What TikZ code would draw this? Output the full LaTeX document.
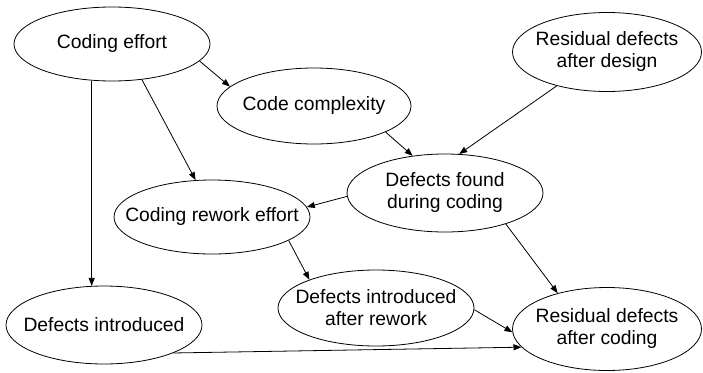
\documentclass[tikz,border=0pt]{standalone}
\usepackage{fontspec}
\setmainfont{Liberation Sans}
\usetikzlibrary{shapes.geometric,arrows.meta}
\begin{document}
\begin{tikzpicture}[x=1pt,y=-1pt,
  lab/.style={inner sep=0pt,align=center,font=\fontsize{19.3}{22}\selectfont},
  ell/.style={draw,ellipse,line width=0.8pt,inner sep=0pt,label={[lab]center:#1}},
  arr/.style={draw,line width=0.8pt,-{Triangle[length=8pt,width=6pt]}}]
\useasboundingbox (0,0) rectangle (703,372);
\node[ell={Coding effort},minimum width=196pt,minimum height=74pt] (ce) at (112,44) {};
\node[ell={Code complexity},minimum width=194pt,minimum height=76pt] (cc) at (314,106) {};
\node[ell={Residual defects\\after design},minimum width=189pt,minimum height=79pt] (rd) at (607,52) {};
\node[ell={Defects found\\during coding},minimum width=196pt,minimum height=78pt] (df) at (445,193) {};
\node[ell={Coding rework effort},minimum width=196pt,minimum height=74pt] (cr) at (212,217) {};
\node[ell={Defects introduced},minimum width=196pt,minimum height=78pt] (di) at (104,325) {};
\node[ell={Defects introduced\\after rework},minimum width=196pt,minimum height=76pt] (dr) at (376,308) {};
\node[ell={Residual defects\\after coding},minimum width=189pt,minimum height=83pt] (rc) at (607,329) {};
\draw[arr] (ce.-11) -- (cc.167);
\draw[arr] (ce.-50) -- (cr.114);
\draw[arr] (ce.241) -- (ce.241 |- di.107);
\draw[arr] (cc.-20) -- (df.131);
\draw[arr] (rd.214) -- (df.70);
\draw[arr] (df.182) -- (cr.6);
\draw[arr] (cr.-17) -- (dr.157);
\draw[arr] (df.-27) -- (rc.144);
\draw[arr] (dr.-1) -- (rc.182);
\draw[arr] (di.-22) -- (rc.192);
\end{tikzpicture}
\end{document}
